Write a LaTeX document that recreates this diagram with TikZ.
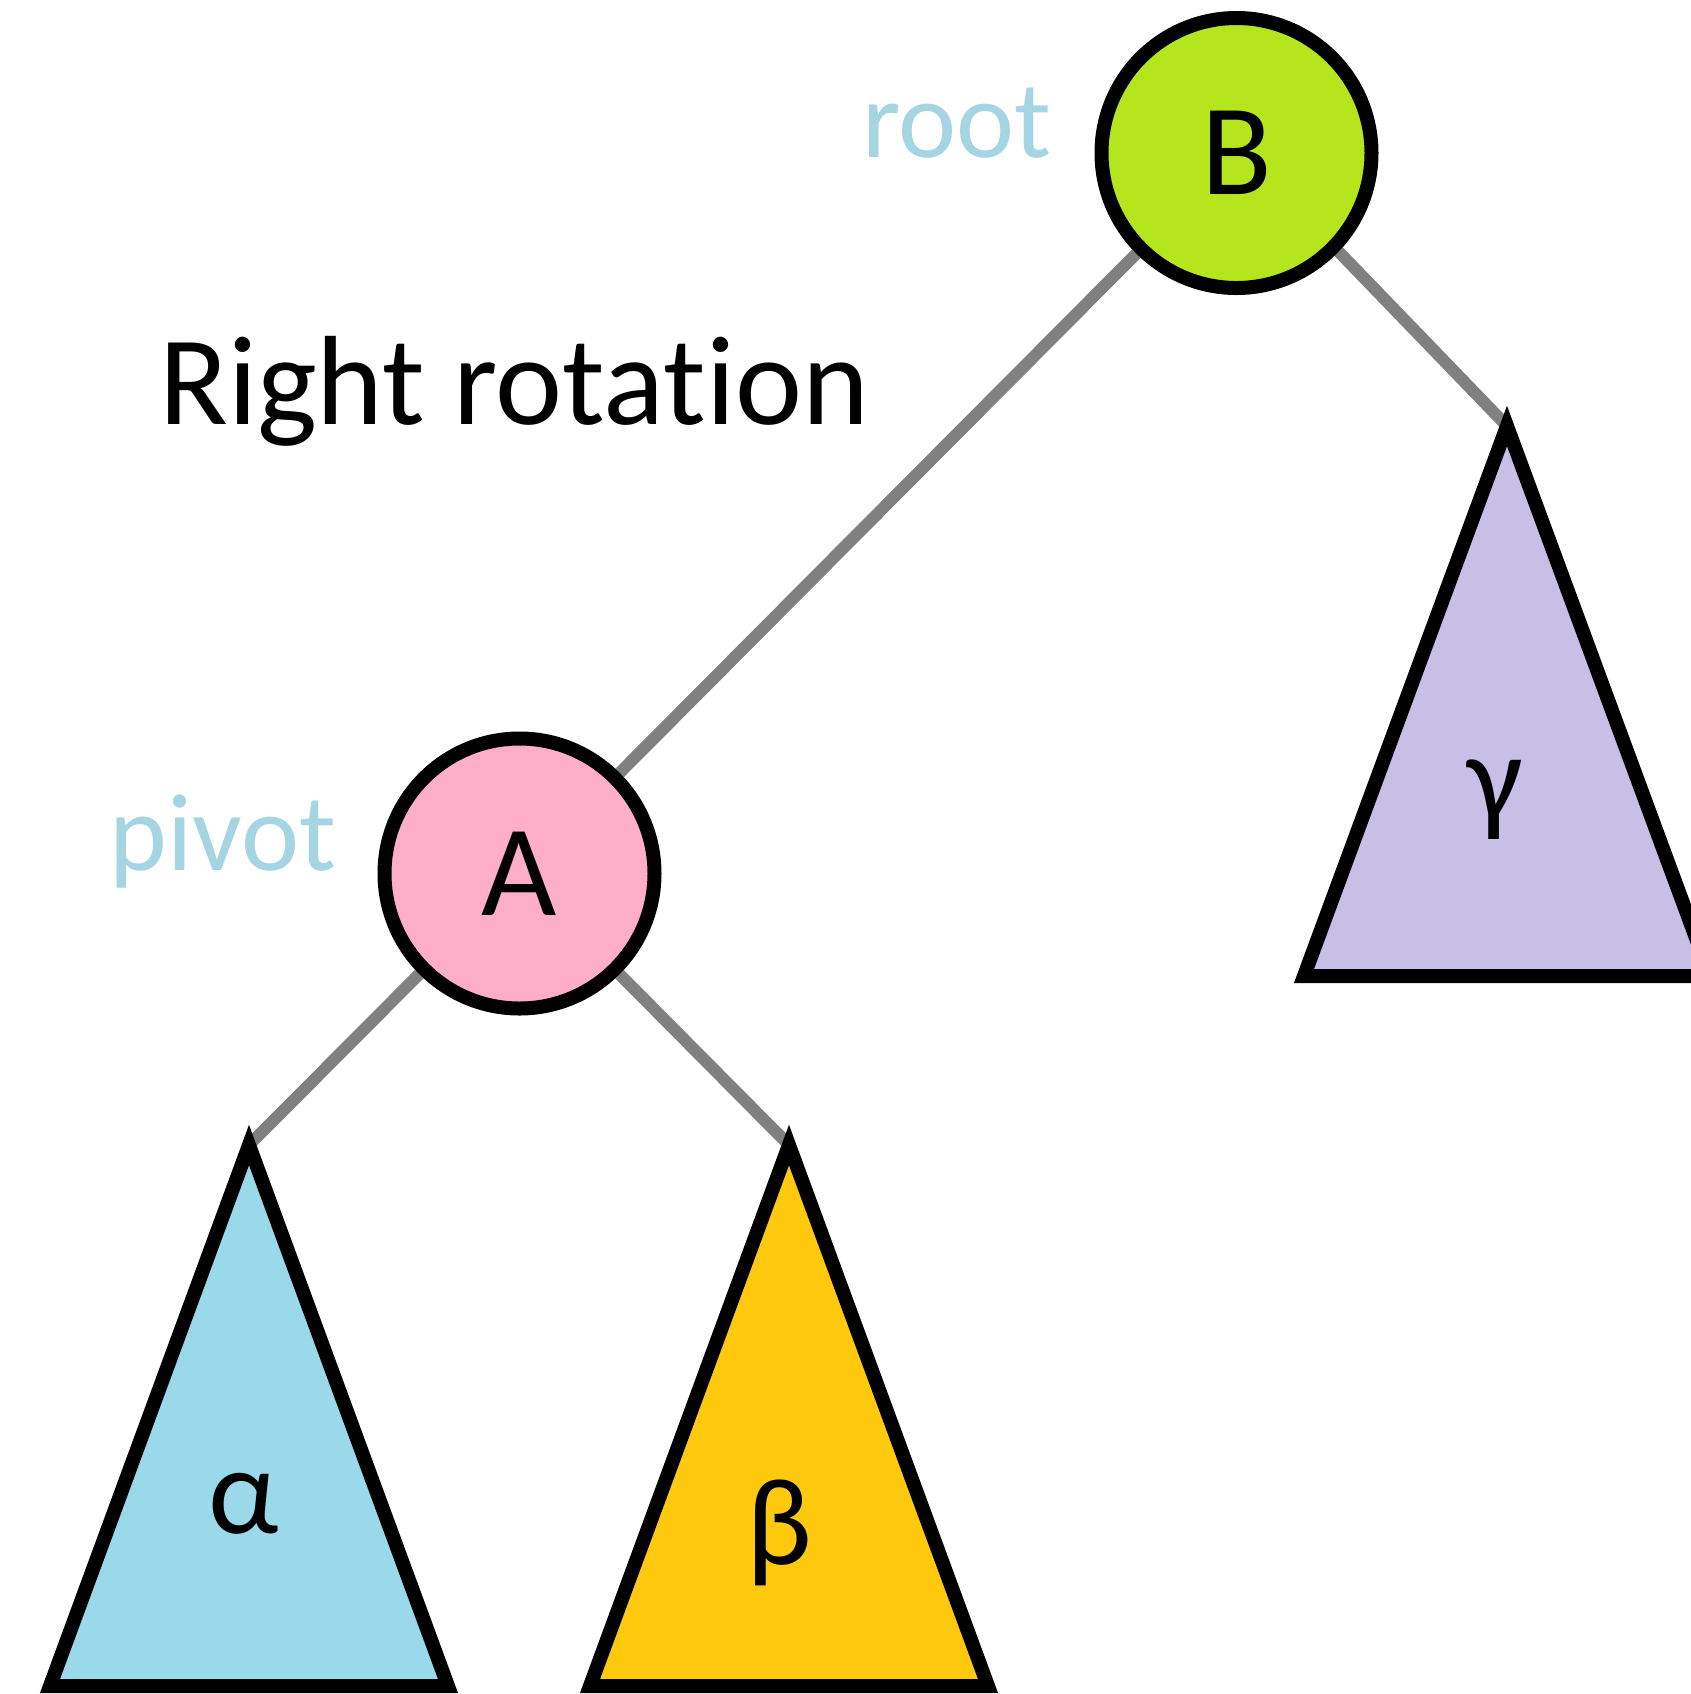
\documentclass[tikz,border=0pt]{standalone}
\usepackage{fontspec}
\setmainfont{Carlito}[Ligatures={NoCommon,NoContextual}]
\usetikzlibrary{backgrounds}
\definecolor{limeB}{RGB}{181,230,29}
\definecolor{pinkA}{RGB}{255,174,201}
\definecolor{blueAlpha}{RGB}{153,217,234}
\definecolor{goldBeta}{RGB}{255,201,14}
\definecolor{lavGamma}{RGB}{200,191,231}
\definecolor{linkgray}{RGB}{128,128,128}
\definecolor{tagblue}{RGB}{165,212,226}
\begin{document}
\begin{tikzpicture}[x=0.5pt,y=-0.5pt,
  treenode/.style={circle,draw=black,line width=7pt,minimum size=135pt,inner sep=0pt,font=\fontsize{65}{70}\selectfont},
  subtree/.style={draw=black,line width=7pt,line join=miter},
  link/.style={draw=linkgray,line width=6pt},
  tag/.style={text=tagblue,font=\fontsize{55}{60}\selectfont,anchor=base,inner sep=0pt},
  greek/.style={font=\fontsize{62}{66}\selectfont,inner sep=0pt}]
\useasboundingbox (0,0) rectangle (1691,1694);
\node[treenode,fill=limeB] (B) at (1236.5,153) {B};
\node[treenode,fill=pinkA] (A) at (519.5,873.5) {A};
\coordinate (ta) at (249,1145);
\coordinate (tb) at (789,1145);
\coordinate (tg) at (1507,426);
\begin{scope}[on background layer]
\draw[link] (B) -- (A);
\draw[link] (B.-44) -- (tg);
\draw[link] (A) -- (ta);
\draw[link] (A) -- (tb);
\end{scope}
\draw[subtree,fill=blueAlpha] (ta) -- ++(-199,541) -- ++(398,0) -- cycle;
\draw[subtree,fill=goldBeta] (tb) -- ++(-199,541) -- ++(398,0) -- cycle;
\draw[subtree,fill=lavGamma] (tg) -- ++(-203,550) -- ++(406,0) -- cycle;
\node[greek] (la) at (244,1504) {α};
\node[greek] (lb) at (779,1533) {β};
\node[greek] (lg) at (1495,800) {γ};
\node[tag] (root) at (957,157) {root};
\node[tag] (pivot) at (223,870) {pivot};
\node[font=\fontsize{63.5}{68}\selectfont,anchor=base,inner sep=0pt] (title) at (514,424) {Right rotation};
\end{tikzpicture}
\end{document}
